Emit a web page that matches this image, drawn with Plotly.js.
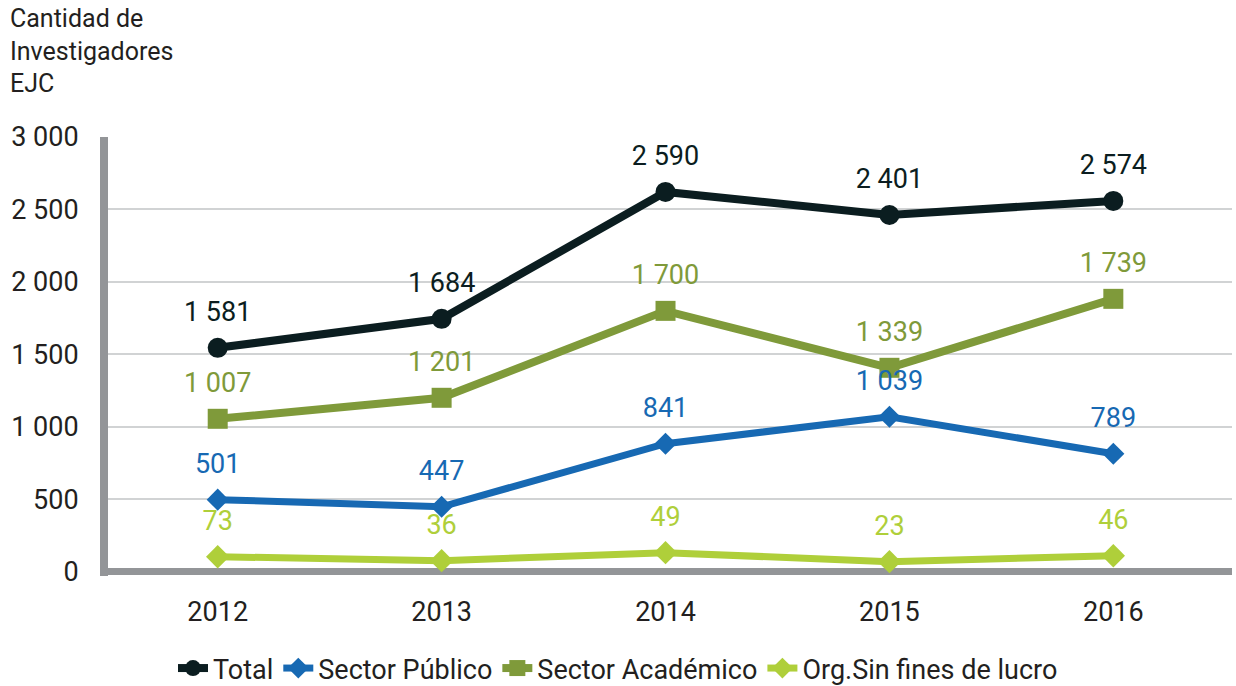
<!DOCTYPE html>
<html>
<head>
<meta charset="utf-8">
<script src="https://cdn.plot.ly/plotly-3.0.1.min.js"></script>
<style>html,body{margin:0;padding:0;background:#fff;}#chart{width:1236px;height:686px;}</style>
</head>
<body>
<div id="chart"></div>
<script>
// Categories
const years = ['2012', '2013', '2014', '2015', '2016'];
// Plotted positions (as drawn in the reference)
const total = [1545, 1745, 2621, 2462, 2559];
const publico = [497, 448, 883, 1069, 814];
const academico = [1055, 1200, 1800, 1407, 1883];
const orgSinFines = [103, 76, 131, 69, 110];
// Data labels shown in the reference
const totalLabels = ['1 581', '1 684', '2 590', '2 401', '2 574'];
const publicoLabels = ['501', '447', '841', '1 039', '789'];
const academicoLabels = ['1 007', '1 201', '1 700', '1 339', '1 739'];
const orgLabels = ['73', '36', '49', '23', '46'];
// Axis ticks
const yTicks = [0, 500, 1000, 1500, 2000, 2500, 3000];
const yTickText = ['0', '500', '1 000', '1 500', '2 000', '2 500', '3 000'];

const FONT = 'Roboto, "Open Sans", sans-serif';
const FS = 27;

function series(name, y, labels, color, symbol, msize, lw) {
  return [
    {
      type: 'scatter', mode: 'lines+markers', name: name,
      x: years, y: y,
      line: {color: color, width: lw},
      marker: {color: color, symbol: symbol, size: msize},
      hoverinfo: 'skip'
    },
    {
      type: 'scatter', mode: 'markers+text', showlegend: false,
      x: years, y: y, text: labels,
      textposition: 'top center',
      textfont: {family: FONT, size: FS, color: color},
      marker: {color: 'rgba(0,0,0,0)', size: 30},
      hoverinfo: 'skip', cliponaxis: false
    }
  ];
}

const data = [].concat(
  series('Total', total, totalLabels, '#0b1d20', 'circle', 20, 8),
  series('Sector Público', publico, publicoLabels, '#1769b3', 'diamond', 17, 7),
  series('Sector Académico', academico, academicoLabels, '#7f9a3a', 'square', 20, 8),
  series('Org.Sin fines de lucro', orgSinFines, orgLabels, '#afcf3a', 'diamond', 18, 7)
);
const ordered = [data[0], data[2], data[4], data[6], data[1], data[3], data[5], data[7]];

const layout = {
  width: 1236, height: 686,
  margin: {l: 108, r: 4, t: 137, b: 110},
  paper_bgcolor: '#ffffff', plot_bgcolor: '#ffffff',
  font: {family: FONT, size: FS, color: '#231f20'},
  separators: ', ',
  title: {
    text: 'Cantidad de<br>Investigadores<br>EJC',
    x: 10 / 1236, xref: 'container', xanchor: 'left',
    y: 1 - 27 / 686, yref: 'container', yanchor: 'top',
    font: {family: FONT, size: 25, color: '#231f20'}
  },
  xaxis: {
    type: 'category', range: [-0.49, 4.53],
    showgrid: false, zeroline: false, showline: false,
    ticks: '', ticklabelstandoff: 17,
    tickfont: {family: FONT, size: FS, color: '#231f20'},
    fixedrange: true
  },
  yaxis: {
    range: [-30, 3000],
    tickvals: yTicks, ticktext: yTickText,
    showgrid: true, gridcolor: '#d1d3d4', gridwidth: 2,
    zeroline: true, zerolinecolor: '#939598', zerolinewidth: 7,
    showline: true, linecolor: '#939598', linewidth: 8,
    ticks: '', ticklabelstandoff: 16,
    tickfont: {family: FONT, size: FS, color: '#231f20'},
    fixedrange: true
  },
  showlegend: true,
  legend: {
    orientation: 'h', x: 0.5, xref: 'container', xanchor: 'center',
    y: 42 / 686, yref: 'container', yanchor: 'top',
    font: {family: FONT, size: FS, color: '#231f20'},
    itemwidth: 30, tracegroupgap: 0
  }
};

Plotly.newPlot('chart', ordered, layout, {displayModeBar: false, staticPlot: true});
</script>
</body>
</html>
